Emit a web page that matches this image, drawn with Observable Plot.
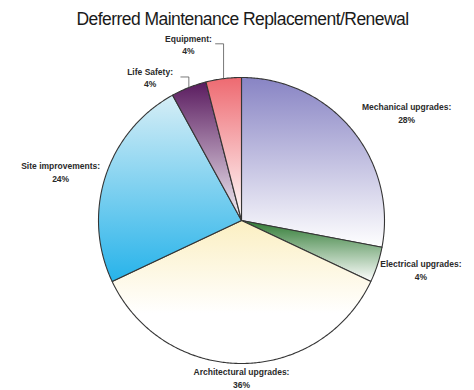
<!DOCTYPE html>
<html>
<head>
<meta charset="utf-8">
<script src="https://cdn.jsdelivr.net/npm/d3@7"></script>
<script src="https://cdn.jsdelivr.net/npm/@observablehq/plot@0.6"></script>
<style>
  html, body { margin: 0; padding: 0; background: #fff; }
</style>
</head>
<body>
<div id="chart"></div>
<script>
// ---- data ----
const title = "Deferred Maintenance Replacement/Renewal";
const categories = ["Mechanical upgrades", "Electrical upgrades", "Architectural upgrades", "Site improvements", "Life Safety", "Equipment"];
const values = [28, 4, 36, 24, 4, 4];
const topColors = ["#8884c4", "#2f7a33", "#fbefc2", "#d6eef6", "#5a1b5f", "#ee6a71"];
const bottomColors = ["#ffffff", "#ffffff", "#ffffff", "#27b3ea", "#f4f1f6", "#ffffff"];

// ---- layout (not data) ----
const W = 474, H = 390;
const cx = 241, cy = 220, R = 143;
const labelK = [1.38, 1.30, 1.095, 1.31, 1.19, 1.29];     // label distance, in radii
const labelDA = [6.4, -2.8, 0, -2.9, -10.9, -9.5];        // angle nudge, degrees
const withLeader = [false, false, false, false, true, true];

const rows = categories.map((c, i) => ({name: c, value: values[i], i}));
const arcs = d3.pie().sort(null).value(d => d.value)(rows);

const px = (a, r) => cx + r * Math.sin(a);
const py = (a, r) => cy - r * Math.cos(a);

const slices = arcs.map(a => {
  const n = Math.max(2, Math.ceil((a.endAngle - a.startAngle) / 0.01));
  const pts = [{x: cx, y: cy}];
  for (let j = 0; j <= n; j++) {
    const t = a.startAngle + (a.endAngle - a.startAngle) * j / n;
    pts.push({x: px(t, R), y: py(t, R)});
  }
  pts.push({x: cx, y: cy});
  return {i: a.data.i, pts};
});

const labels = arcs.map(a => {
  const i = a.data.i;
  const mid = (a.startAngle + a.endAngle) / 2;
  const la = mid + labelDA[i] * Math.PI / 180;
  return {
    i, mid,
    x: px(la, R * labelK[i]),
    y: py(la, R * labelK[i]),
    text: `${categories[i]}:\n${values[i]}%`
  };
});

const leaders = labels.filter(l => withLeader[l.i]).flatMap(l => {
  const ex = px(l.mid, R), ey = py(l.mid, R);
  return [
    {g: l.i, x: ex - 8, y: l.y},
    {g: l.i, x: ex, y: l.y},
    {g: l.i, x: ex, y: ey}
  ];
});

const chart = Plot.plot({
  width: W,
  height: H,
  margin: 0,
  x: {domain: [0, W], range: [0, W], axis: null},
  y: {domain: [0, H], range: [0, H], axis: null},
  style: {fontFamily: "'Liberation Sans', Arial, sans-serif", background: "#fff", color: "#222"},
  marks: [
    ...slices.map(s => Plot.line(s.pts, {
      x: "x", y: "y",
      fill: `url(#grad${s.i})`,
      stroke: "#353535",
      strokeWidth: 1.1,
      strokeLinejoin: "round"
    })),
    Plot.line(leaders, {x: "x", y: "y", z: "g", stroke: "#555", strokeWidth: 0.8}),
    Plot.text(labels, {
      x: "x", y: "y", text: "text",
      fontSize: 8.5, fontWeight: "bold", lineHeight: 1.5,
      fill: "#2a2a2a", textAnchor: "middle"
    }),
    Plot.text([title], {
      frameAnchor: "top", lineAnchor: "bottom", dy: 24, dx: 5, fontSize: 17.5, fill: "#1a1a1a"
    })
  ]
});

const svg = d3.select(chart);
// tighten the title's letter spacing
svg.selectAll("text").filter(function() { return this.textContent === title; })
  .attr("letter-spacing", "-0.55px");

// gradient definitions
const defs = svg.insert("defs", ":first-child");
categories.forEach((c, i) => {
  const g = defs.append("linearGradient")
    .attr("id", `grad${i}`)
    .attr("x1", 0).attr("y1", 0).attr("x2", 0).attr("y2", 1);
  g.append("stop").attr("offset", "0%").attr("stop-color", topColors[i]);
  g.append("stop").attr("offset", i === 2 ? "65%" : "100%").attr("stop-color", bottomColors[i]);
});

document.getElementById("chart").appendChild(chart);
</script>
</body>
</html>
